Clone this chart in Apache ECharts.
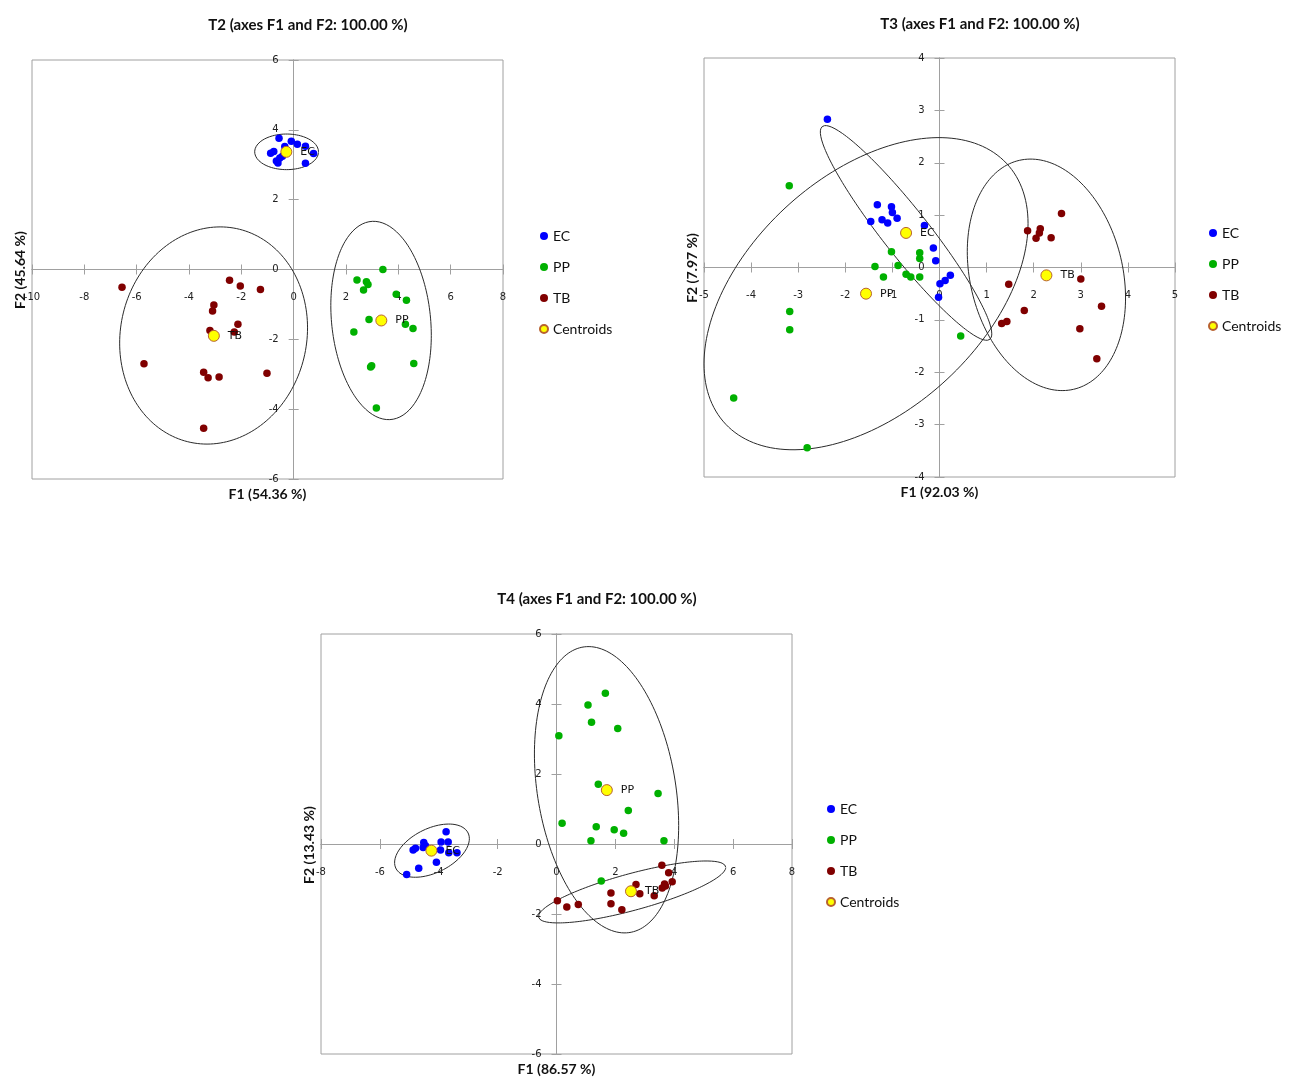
<!DOCTYPE html>
<html>
<head>
<meta charset="utf-8">
<title>Discriminant analysis – F1 × F2 maps</title>
<script src="https://cdn.jsdelivr.net/npm/echarts@6/dist/echarts.min.js"></script>
<style>
  html, body { margin: 0; padding: 0; background: #ffffff; }
  #chart { width: 1290px; height: 1077px; }
</style>
</head>
<body>
<div id="chart"></div>
<script>
// ---------- T2 observations (F1, F2) ----------
const t2EC = [[-0.56,3.76],[-0.09,3.67],[0.14,3.59],[0.45,3.53],[0.76,3.32],[0.45,3.04],[-0.88,3.33],
              [-0.76,3.38],[-0.66,3.11],[-0.53,3.19],[-0.43,3.24],[-0.34,3.52],[-0.60,3.05]];
const t2PP = [[3.41,0.00],[2.42,-0.30],[2.78,-0.35],[2.84,-0.43],[2.67,-0.59],[3.92,-0.71],[4.31,-0.88],
              [2.88,-1.43],[4.27,-1.57],[4.56,-1.69],[2.30,-1.79],[2.94,-2.79],[2.98,-2.76],[4.59,-2.69],[3.16,-3.97]];
const t2TB = [[-6.56,-0.51],[-2.45,-0.31],[-2.04,-0.47],[-1.27,-0.57],[-3.05,-1.02],[-3.10,-1.19],[-2.13,-1.57],
              [-2.27,-1.79],[-3.20,-1.75],[-5.72,-2.70],[-3.44,-2.94],[-3.27,-3.10],[-2.85,-3.08],[-1.02,-2.97],[-3.44,-4.55]];
const t2Centroids = [[-0.28,3.37,'EC'],[3.35,-1.46,'PP'],[-3.05,-1.90,'TB']];
// ellipse: [centre F1, centre F2, half-range F1, half-range F2, correlation]
const t2Ellipses = [[-0.27,3.37,1.22,0.51,0.00],[3.34,-1.46,1.92,2.84,-0.15],[-3.06,-1.89,3.59,3.11,0.07]];

// ---------- T3 observations ----------
const t3EC = [[-2.38,2.83],[-1.32,1.20],[-1.02,1.16],[-1.00,1.05],[-0.90,0.94],[-1.46,0.88],[-1.22,0.91],[-1.10,0.85],
              [-0.32,0.80],[-0.13,0.37],[-0.08,0.13],[0.23,-0.15],[0.12,-0.25],[0.01,-0.31],[-0.02,-0.57]];
const t3PP = [[-3.19,1.56],[-1.02,0.30],[-0.42,0.28],[-0.42,0.17],[-1.37,0.02],[-0.88,0.04],[-1.19,-0.18],[-0.71,-0.13],
              [-0.61,-0.18],[-0.42,-0.18],[-3.18,-0.84],[-3.18,-1.19],[-4.37,-2.49],[-2.81,-3.44],[0.45,-1.31]];
const t3TB = [[2.59,1.03],[1.87,0.70],[2.14,0.74],[2.12,0.66],[2.05,0.56],[2.37,0.57],[3.00,-0.22],[1.47,-0.32],
              [3.44,-0.74],[1.80,-0.82],[1.43,-1.03],[1.32,-1.07],[2.98,-1.17],[3.34,-1.74]];
const t3Centroids = [[-0.71,0.66,'EC'],[-1.56,-0.50,'PP'],[2.27,-0.15,'TB']];
const t3Ellipses = [[-0.71,0.66,1.82,2.05,-0.94],[-1.56,-0.50,3.44,2.98,0.45],[2.27,-0.14,1.68,2.21,-0.20]];

// ---------- T4 observations ----------
const t4EC = [[-3.75,0.35],[-3.68,0.06],[-3.92,0.06],[-4.51,0.04],[-4.53,-0.10],[-4.79,-0.12],[-4.87,-0.17],
              [-3.94,-0.17],[-3.66,-0.25],[-3.38,-0.25],[-4.08,-0.52],[-4.68,-0.69],[-5.09,-0.87],[-4.45,-0.05]];
const t4PP = [[1.66,4.31],[1.07,3.97],[1.19,3.48],[2.08,3.30],[0.08,3.09],[1.42,1.71],[3.45,1.44],[2.44,0.96],
              [0.19,0.59],[1.35,0.49],[1.96,0.41],[2.28,0.31],[1.17,0.09],[3.65,0.09],[1.52,-1.06]];
const t4TB = [[3.58,-0.61],[3.81,-0.82],[3.93,-1.08],[3.67,-1.14],[3.59,-1.26],[3.70,-1.20],[2.70,-1.16],[2.83,-1.42],
              [3.32,-1.48],[1.85,-1.40],[1.85,-1.71],[2.22,-1.88],[0.03,-1.62],[0.35,-1.80],[0.74,-1.73]];
const t4Centroids = [[-4.25,-0.19,'EC'],[1.71,1.54,'PP'],[2.53,-1.35,'TB']];
const t4Ellipses = [[-4.23,-0.19,1.27,0.76,0.45],[1.70,1.55,2.45,4.09,-0.25],[2.57,-1.37,3.18,0.885,0.79]];

const groupNames = ['EC', 'PP', 'TB'];
const groupColors = ['#0000ff', '#00b000', '#800000'];
const legendNames = ['EC', 'PP', 'TB', 'Centroids'];

const panels = [
  { title: 'T2 (axes F1 and F2: 100.00 %)', xName: 'F1 (54.36 %)', yName: 'F2 (45.64 %)',
    grid: { left: 32, top: 60, width: 471, height: 419 }, xRange: [-10, 8, 2], yRange: [-6, 6, 2],
    groups: [t2EC, t2PP, t2TB], centroids: t2Centroids, ellipses: t2Ellipses,
    titlePos: [308, 25], yNamePos: [20, 270], legendPos: [534, 224] },
  { title: 'T3 (axes F1 and F2: 100.00 %)', xName: 'F1 (92.03 %)', yName: 'F2 (7.97 %)',
    grid: { left: 704, top: 58, width: 471, height: 419 }, xRange: [-5, 5, 1], yRange: [-4, 4, 1],
    groups: [t3EC, t3PP, t3TB], centroids: t3Centroids, ellipses: t3Ellipses,
    titlePos: [980, 24], yNamePos: [692, 268], legendPos: [1203, 221] },
  { title: 'T4 (axes F1 and F2: 100.00 %)', xName: 'F1 (86.57 %)', yName: 'F2 (13.43 %)',
    grid: { left: 321, top: 634, width: 471, height: 420 }, xRange: [-8, 8, 2], yRange: [-6, 6, 2],
    groups: [t4EC, t4PP, t4TB], centroids: t4Centroids, ellipses: t4Ellipses,
    titlePos: [597, 599], yNamePos: [309, 845], legendPos: [821, 797] }
];

// Outline of a confidence ellipse from its centre, half-ranges and correlation
function ellipseOutline(p) {
  const [cx, cy, rx, ry, k] = p;
  const phi = Math.acos(k);
  const pts = [];
  const n = 180;
  for (let i = 0; i <= n; i++) {
    const t = (i / n) * 2 * Math.PI;
    pts.push([cx + rx * Math.cos(t), cy + ry * Math.cos(t - phi)]);
  }
  return pts;
}

const AXIS_COLOR = '#a0a0a0';
const tickFont = { fontFamily: 'DejaVu Sans', fontSize: 10, color: '#222' };

const grids = [], xAxes = [], yAxes = [], series = [], legends = [], graphics = [];

panels.forEach((pn, i) => {
  grids.push(Object.assign({
    show: true, borderColor: AXIS_COLOR, borderWidth: 1, backgroundColor: '#ffffff',
    containLabel: false, outerBoundsMode: 'none'
  }, pn.grid));

  const xi = xAxes.length, yi = yAxes.length;
  const [xmin, xmax, xint] = pn.xRange;
  const [ymin, ymax, yint] = pn.yRange;

  // distance of the zero lines from each grid edge, so the axes cross at the origin
  const fromBottom = pn.grid.height * (0 - ymin) / (ymax - ymin);
  const fromTop = pn.grid.height - fromBottom;
  const fromLeft = pn.grid.width * (0 - xmin) / (xmax - xmin);
  const fromRight = pn.grid.width - fromLeft;

  const lineCfg = { show: true, onZero: false, lineStyle: { color: AXIS_COLOR, width: 1 } };
  const tickCfg = { show: true, length: 5, lineStyle: { color: AXIS_COLOR } };

  // main axes: line, outward ticks, labels
  xAxes.push({
    type: 'value', gridIndex: i, min: xmin, max: xmax, interval: xint,
    position: 'bottom', offset: -fromBottom,
    axisLine: lineCfg, axisTick: tickCfg,
    axisLabel: Object.assign({ margin: 23, showMinLabel: true, showMaxLabel: true, hideOverlap: false }, tickFont),
    splitLine: { show: false }
  });
  yAxes.push({
    type: 'value', gridIndex: i, min: ymin, max: ymax, interval: yint,
    position: 'left', offset: -fromLeft,
    axisLine: lineCfg, axisTick: tickCfg,
    axisLabel: Object.assign({ margin: 15, showMinLabel: true, showMaxLabel: true, hideOverlap: false }, tickFont),
    splitLine: { show: false }
  });
  // companion axes: the other half of the crossing tick marks
  xAxes.push({
    type: 'value', gridIndex: i, min: xmin, max: xmax, interval: xint,
    position: 'top', offset: -fromTop,
    axisLine: lineCfg, axisTick: tickCfg,
    axisLabel: { show: false }, splitLine: { show: false }
  });
  yAxes.push({
    type: 'value', gridIndex: i, min: ymin, max: ymax, interval: yint,
    position: 'right', offset: -fromRight,
    axisLine: lineCfg, axisTick: tickCfg,
    axisLabel: { show: false }, splitLine: { show: false }
  });

  // ellipses
  pn.ellipses.forEach((e, g) => {
    series.push({
      type: 'line', name: 'ellipse ' + groupNames[g], xAxisIndex: xi, yAxisIndex: yi,
      data: ellipseOutline(e), showSymbol: false, symbol: 'none', smooth: false, silent: true,
      lineStyle: { color: '#2a2a2a', width: 1 }, z: 3, clip: true
    });
  });

  // observations
  pn.groups.forEach((pts, g) => {
    series.push({
      type: 'scatter', name: groupNames[g], xAxisIndex: xi, yAxisIndex: yi,
      data: pts, symbol: 'circle', symbolSize: 7.5,
      itemStyle: { color: groupColors[g], opacity: 1 }, z: 4
    });
  });

  // centroids with their group labels
  series.push({
    type: 'scatter', name: 'Centroids', xAxisIndex: xi, yAxisIndex: yi,
    data: pn.centroids, symbol: 'circle', symbolSize: 11,
    itemStyle: { color: '#ffff00', borderColor: '#b8622f', borderWidth: 1, opacity: 1 },
    label: {
      show: true, position: 'right', distance: 8,
      formatter: p => p.data[2],
      fontFamily: 'DejaVu Sans', fontSize: 11, color: '#111'
    },
    z: 5
  });

  legends.push({
    orient: 'vertical', left: pn.legendPos[0], top: pn.legendPos[1],
    data: legendNames, itemWidth: 8, itemHeight: 8, itemGap: 17,
    icon: 'circle', selectedMode: false,
    textStyle: { fontFamily: 'Lato', fontSize: 14, color: '#111' }
  });

  // panel title and axis titles
  graphics.push({
    type: 'text', x: pn.titlePos[0], y: pn.titlePos[1],
    style: { text: pn.title, font: 'bold 15px Lato', fill: '#111',
             align: 'center', verticalAlign: 'middle', textAlign: 'center', textVerticalAlign: 'middle' }
  });
  graphics.push({
    type: 'text', x: pn.grid.left + pn.grid.width / 2, y: pn.grid.top + pn.grid.height + 15,
    style: { text: pn.xName, font: 'bold 14px Lato', fill: '#111',
             align: 'center', verticalAlign: 'middle', textAlign: 'center', textVerticalAlign: 'middle' }
  });
  graphics.push({
    type: 'text', x: pn.yNamePos[0], y: pn.yNamePos[1], rotation: Math.PI / 2,
    style: { text: pn.yName, font: 'bold 14px Lato', fill: '#111',
             align: 'center', verticalAlign: 'middle', textAlign: 'center', textVerticalAlign: 'middle' }
  });
});

const chart = echarts.init(document.getElementById('chart'), null, { renderer: 'canvas' });
chart.setOption({
  animation: false,
  backgroundColor: '#ffffff',
  grid: grids,
  xAxis: xAxes,
  yAxis: yAxes,
  legend: legends,
  series: series,
  graphic: graphics
});
</script>
</body>
</html>
